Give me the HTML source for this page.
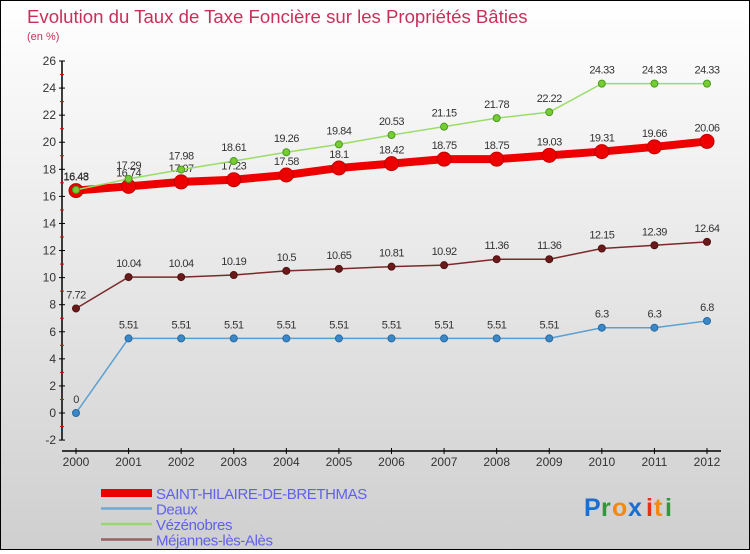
<!DOCTYPE html>
<html><head><meta charset="utf-8"><style>
html,body{margin:0;padding:0}
body{width:750px;height:550px;overflow:hidden;font-family:"Liberation Sans",sans-serif}
#wrap{position:relative;width:748px;height:548px;border:1px solid #000;background:linear-gradient(#ffffff,#cfcfcf)}
</style></head><body>
<div id="wrap">
<svg id="chart" width="748" height="548" xmlns="http://www.w3.org/2000/svg">
<text x="26" y="22" font-size="18.6" fill="#c8305a">Evolution du Taux de Taxe Foncière sur les Propriétés Bâties</text>
<text x="26" y="39" font-size="11" fill="#c8305a">(en %)</text>
<g id="axes"></g><g id="series"></g><g id="legend"></g>
<g font-size="25" font-weight="bold">
<text x="583" y="515" fill="#1a6fd0">P</text><text x="600" y="515" fill="#2a9a3a">r</text><text x="611" y="515" fill="#f08a10">o</text><text x="627" y="515" fill="#1a6fd0">x</text><text x="645" y="515" fill="#e83010">i</text><text x="653" y="515" fill="#f08a10">t</text><text x="664" y="515" fill="#2a9a3a">i</text>
</g>
</svg></div>
<script>
const years=[2000,2001,2002,2003,2004,2005,2006,2007,2008,2009,2010,2011,2012];
const saintHilaire=[16.43,16.74,17.07,17.23,17.58,18.1,18.42,18.75,18.75,19.03,19.31,19.66,20.06];
const deaux=[0,5.51,5.51,5.51,5.51,5.51,5.51,5.51,5.51,5.51,6.3,6.3,6.8];
const vezenobres=[16.48,17.29,17.98,18.61,19.26,19.84,20.53,21.15,21.78,22.22,24.33,24.33,24.33];
const mejannes=[7.72,10.04,10.04,10.19,10.5,10.65,10.81,10.92,11.36,11.36,12.15,12.39,12.64];
const yTicks=[-2,0,2,4,6,8,10,12,14,16,18,20,22,24,26];
const seriesNames=["SAINT-HILAIRE-DE-BRETHMAS","Deaux","Vézénobres","Méjannes-lès-Alès"];

const NS="http://www.w3.org/2000/svg";
const X=i=>75+i*(706-75)/(years.length-1);
const Y=v=>412-v*(412-60)/26;
function mk(tag,attrs,parent,txt){const e=document.createElementNS(NS,tag);for(const k in attrs)e.setAttribute(k,attrs[k]);if(txt!==undefined)e.textContent=txt;parent.appendChild(e);return e;}
const axes=document.getElementById('axes');
let e=mk('line',{x1:61,y1:Y(26),x2:61,y2:Y(-2),stroke:'#000','stroke-width':1.5},axes);

e=mk('line',{x1:61,y1:450,x2:720,y2:450,stroke:'#000','stroke-width':1.5},axes);

yTicks.forEach(t=>{
 mk('line',{x1:58,y1:Y(t),x2:64,y2:Y(t),stroke:'#000'},axes);
 if(t<26)mk('line',{x1:59,y1:Y(t+1),x2:63,y2:Y(t+1),stroke:'#e00'},axes);
 e=mk('text',{x:55,y:Y(t)+4,'font-size':12,fill:'#333','text-anchor':'end'},axes,String(t));
 
});
years.forEach((yr,i)=>{
 mk('line',{x1:X(i),y1:447,x2:X(i),y2:453,stroke:'#000'},axes);
 e=mk('text',{x:X(i),y:465,'font-size':12,fill:'#333','text-anchor':'middle'},axes,String(yr));
 
});
const ser=document.getElementById('series');
function draw(vals,name,color,w,r,dot,dotStroke){
 const g=mk('g',{},ser);
 
 const pts=vals.map((v,i)=>X(i)+','+Y(v)).join(' ');
 mk('polyline',{points:pts,fill:'none',stroke:color,'stroke-width':w,'stroke-linejoin':'round'},g);
 vals.forEach((v,i)=>{
  const c=mk('circle',{cx:X(i),cy:Y(v),r:r,fill:dot,stroke:dotStroke,'stroke-width':1},g);
  
  const t=mk('text',{x:X(i),y:Y(v)-10,'font-size':11,fill:'#333','text-anchor':'middle','letter-spacing':'-0.5'},g,String(v));
  
 });
}
draw(deaux,'deaux','#5b9fd0',1.5,3.5,'#3a88c8','#2a6aa0');
draw(mejannes,'mejannes','#7a2a2a',1.5,3.5,'#6a1a1a','#501010');
draw(saintHilaire,'saint-hilaire','#ee0000',8,7,'#ee0000','#c00000');
draw(vezenobres,'vezenobres','#99dd66',1.5,3.5,'#77cc33','#4a9a20');
const leg=document.getElementById('legend');
const legColors=['#ee0000','#6fa8d0','#99d870','#9a6060'];const legW=[8,2.5,2.5,2.5];
seriesNames.forEach((n,i)=>{
 const y=492+i*15.5;
 const g=mk('g',{},leg);
 mk('line',{x1:100,y1:y,x2:151,y2:y,stroke:legColors[i],'stroke-width':legW[i]},g);
 mk('text',{x:155,y:y+6,'font-size':15,'letter-spacing':'-0.4',fill:'#6060ee'},g,n);
});
</script>
</body></html>
